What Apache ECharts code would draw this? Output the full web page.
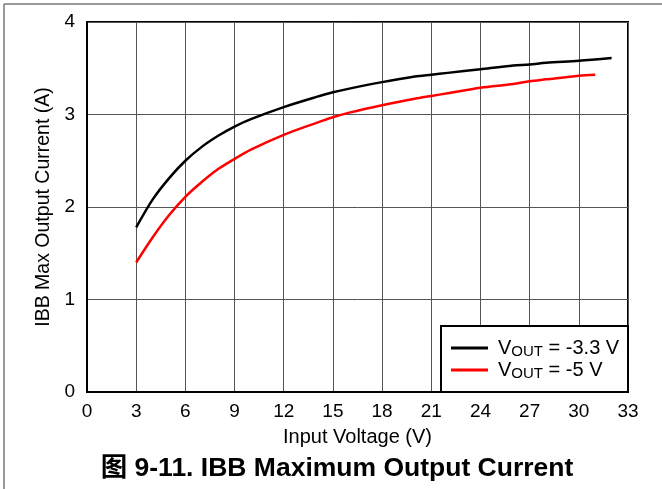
<!DOCTYPE html>
<html>
<head>
<meta charset="utf-8">
<script src="https://cdn.jsdelivr.net/npm/echarts@6/dist/echarts.min.js"></script>
<style>html,body{margin:0;padding:0;background:#fff}#c{width:662px;height:489px}</style>
</head>
<body>
<div id="c"></div>
<script>
const xTicks = [0, 3, 6, 9, 12, 15, 18, 21, 24, 27, 30, 33];
const yTicks = [0, 1, 2, 3, 4];
const vin33 = [3, 4, 5, 6, 7, 8, 9, 10, 12, 14, 15, 16, 18, 20, 21, 22, 24, 26, 27, 28, 30, 32];
const iout33 = [1.78, 2.08, 2.31, 2.50, 2.65, 2.77, 2.87, 2.95, 3.08, 3.19, 3.24, 3.28, 3.35, 3.41, 3.43, 3.45, 3.49, 3.53, 3.54, 3.56, 3.58, 3.61];
const vin5 = [3, 4, 5, 6, 7, 8, 9, 10, 12, 14, 15, 16, 18, 20, 21, 22, 24, 26, 27, 28, 30, 31];
const iout5 = [1.40, 1.67, 1.91, 2.11, 2.27, 2.41, 2.52, 2.62, 2.78, 2.91, 2.97, 3.02, 3.10, 3.17, 3.20, 3.23, 3.29, 3.33, 3.36, 3.38, 3.42, 3.43];
const seriesNames = ['VOUT = -3.3 V', 'VOUT = -5 V'];
const legendLabels = { 'VOUT = -3.3 V': ' = -3.3 V', 'VOUT = -5 V': ' = -5 V' };

const font = 'Liberation Sans, Arial, sans-serif';
const chart = echarts.init(document.getElementById('c'), null, { renderer: 'canvas' });
chart.setOption({
  animation: false,
  backgroundColor: '#fff',
  grid: { left: 87, right: 34, top: 22, bottom: 97, show: true, borderColor: '#000', borderWidth: 2, backgroundColor: 'transparent' },
  xAxis: {
    type: 'value', min: xTicks[0], max: xTicks[xTicks.length - 1], interval: 3,
    name: 'Input Voltage (V)', nameLocation: 'middle', nameGap: 35,
    nameTextStyle: { fontFamily: font, fontSize: 20, color: '#000' },
    axisLine: { show: true, lineStyle: { color: '#000', width: 2 } },
    axisTick: { show: false },
    axisLabel: { fontFamily: font, fontSize: 19, color: '#000', margin: 10 },
    splitLine: { show: true, lineStyle: { color: '#555', width: 1 } }
  },
  yAxis: {
    type: 'value', min: yTicks[0], max: yTicks[yTicks.length - 1], interval: 1,
    name: 'IBB Max Output Current (A)', nameLocation: 'middle', nameGap: 33,
    nameTextStyle: { fontFamily: font, fontSize: 19.5, color: '#000' },
    axisLine: { show: true, lineStyle: { color: '#000', width: 2 } },
    axisTick: { show: false },
    axisLabel: { fontFamily: font, fontSize: 19, color: '#000', margin: 12 },
    splitLine: { show: true, lineStyle: { color: '#555', width: 1 } }
  },
  legend: {
    show: true, orient: 'vertical', left: 451, top: 337,
    itemWidth: 37, itemHeight: 3, itemGap: 0,
    icon: 'rect', padding: 0,
    data: seriesNames,
    formatter: function (n) { return '{v|V}{s|OUT}{v|' + legendLabels[n] + '}'; },
    textStyle: {
      fontFamily: font, color: '#000', padding: [0, 0, 0, 5],
      rich: {
        v: { fontFamily: font, fontSize: 20, color: '#000', lineHeight: 22 },
        s: { fontFamily: font, fontSize: 15, color: '#000', padding: [7, 0, 0, 0], lineHeight: 22 }
      }
    },
    z: 20
  },
  graphic: [
    { type: 'rect', shape: { x: 441, y: 326, width: 187, height: 66 }, style: { fill: '#fff', stroke: '#000', lineWidth: 2 }, z: 10 },
    { type: 'line', shape: { x1: 4, y1: 4, x2: 662, y2: 4 }, style: { stroke: '#777', lineWidth: 1.5 }, z: 1 },
    { type: 'line', shape: { x1: 4, y1: 4, x2: 4, y2: 489 }, style: { stroke: '#777', lineWidth: 1.5 }, z: 1 },
    { type: 'text', x: 337, y: 469, style: { text: '图 9-11. IBB Maximum Output Current', font: 'bold 26.5px "Liberation Sans", "Noto Sans CJK SC", sans-serif', fill: '#000', align: 'center', verticalAlign: 'middle' }, z: 5 }
  ],
  series: [
    { name: seriesNames[0], type: 'line', data: vin33.map((x, i) => [x, iout33[i]]), smooth: 0.3, symbol: 'none', lineStyle: { color: '#000', width: 2.5 }, itemStyle: { color: '#000' }, z: 3 },
    { name: seriesNames[1], type: 'line', data: vin5.map((x, i) => [x, iout5[i]]), smooth: 0.3, symbol: 'none', lineStyle: { color: '#ff0000', width: 2.5 }, itemStyle: { color: '#ff0000' }, z: 3 }
  ]
});
</script>
</body>
</html>
